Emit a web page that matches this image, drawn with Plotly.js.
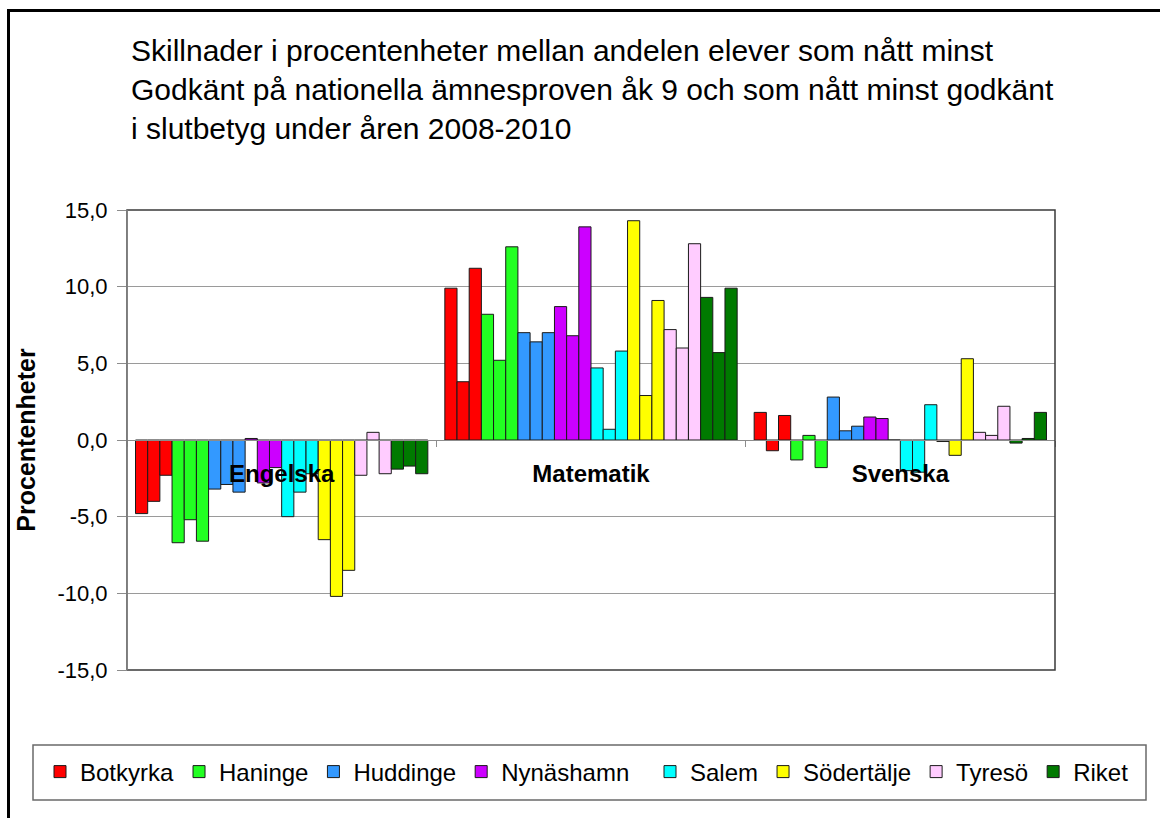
<!DOCTYPE html>
<html>
<head>
<meta charset="utf-8">
<script src="https://cdn.plot.ly/plotly-3.0.1.min.js"></script>
<style>
  html, body { margin: 0; padding: 0; background: #fff; }
  #frame { position: absolute; left: 7px; top: 9px; width: 1160px; height: 830px;
           border-top: 3px solid #000; border-left: 3px solid #000; box-sizing: border-box; pointer-events: none; z-index: 2; }
  #chart { position: absolute; left: 0; top: 0; width: 1160px; height: 818px; }
</style>
</head>
<body>
<div id="chart"></div>
<div id="frame"></div>
<script>
// Categories (subjects) and years
const subjects = ["Engelska", "Matematik", "Svenska"];
const years = ["2008", "2009", "2010"];
const municipalities = ["Botkyrka", "Haninge", "Huddinge", "Nynäshamn", "Salem", "Södertälje", "Tyresö", "Riket"];
const colors = ["#FF0000", "#22FF22", "#3399FF", "#CC00FF", "#00FFFF", "#FFFF00", "#FFCCFF", "#007A00"];

// Y-axis ticks
const yTickVals = [-15, -10, -5, 0, 5, 10, 15];
const yTickText = ["-15,0", "-10,0", "-5,0", "0,0", "5,0", "10,0", "15,0"];

// Values per municipality: [year][subject] -> Engelska, Matematik, Svenska
const botkyrka   = [[-4.8, 9.9, 1.8], [-4.0, 3.8, -0.7], [-2.3, 11.2, 1.6]];
const haninge    = [[-6.7, 8.2, -1.3], [-5.2, 5.2, 0.3], [-6.6, 12.6, -1.8]];
const huddinge   = [[-3.2, 7.0, 2.8], [-2.9, 6.4, 0.6], [-3.4, 7.0, 0.9]];
const nynashamn  = [[0.1, 8.7, 1.5], [-2.8, 6.8, 1.4], [-1.8, 13.9, 0.0]];
const salem      = [[-5.0, 4.7, -2.0], [-3.4, 0.7, -2.1], [-2.2, 5.8, 2.3]];
const sodertalje = [[-6.5, 14.3, -0.1], [-10.2, 2.9, -1.0], [-8.5, 9.1, 5.3]];
const tyreso     = [[-2.3, 7.2, 0.5], [0.5, 6.0, 0.3], [-2.2, 12.8, 2.2]];
const riket      = [[-1.9, 9.3, -0.2], [-1.7, 5.7, 0.1], [-2.2, 9.9, 1.8]];

const allData = [botkyrka, haninge, huddinge, nynashamn, salem, sodertalje, tyreso, riket];

const FONT = "Liberation Sans, Arial, sans-serif";

const traces = [];
municipalities.forEach((m, i) => {
  years.forEach((yr, j) => {
    traces.push({
      type: "bar",
      x: subjects,
      y: allData[i][j],
      name: m,
      legendgroup: m,
      legend: i < 4 ? "legend" : "legend2",
      showlegend: j === 0,
      marker: { color: colors[i], line: { color: "#1a1a1a", width: 1 } },
      hovertemplate: m + " " + yr + ": %{y:.1f}<extra></extra>"
    });
  });
});

const legendCommon = {
  orientation: "h",
  xref: "container", xanchor: "left",
  yref: "container", y: 1 - 772 / 818, yanchor: "middle",
  font: { size: 24, family: FONT, color: "#000" },
  bgcolor: "rgba(0,0,0,0)",
  itemwidth: 30,
  traceorder: "normal"
};

const layout = {
  width: 1160,
  height: 818,
  paper_bgcolor: "rgba(0,0,0,0)",
  plot_bgcolor: "#ffffff",
  font: { family: FONT, color: "#000" },
  separators: ", ",
  margin: { l: 127, r: 105, t: 210, b: 148, autoexpand: false },
  barmode: "group",
  bargap: 0.055,
  bargroupgap: 0,
  title: {
    text: "Skillnader i procentenheter mellan andelen elever som nått minst<br>Godkänt på nationella ämnesproven åk 9 och som nått minst godkänt<br>i slutbetyg under åren 2008-2010",
    font: { size: 30, family: FONT, color: "#000" },
    x: 131 / 1160, xanchor: "left", xref: "container",
    y: 1 - 61 / 818, yanchor: "top", yref: "container"
  },
  xaxis: {
    type: "category",
    anchor: "free",
    position: 0.5,
    showline: true,
    linecolor: "#8c8c8c",
    linewidth: 1,
    ticks: "outside",
    tickson: "boundaries",
    ticklen: 6,
    tickcolor: "#8c8c8c",
    ticklabelstandoff: 12,
    tickfont: { size: 24, family: FONT, color: "#000", weight: "bold" },
    showgrid: false,
    zeroline: false
  },
  yaxis: {
    range: [-15, 15],
    tickvals: yTickVals,
    ticktext: yTickText,
    showgrid: true,
    gridcolor: "#9a9a9a",
    gridwidth: 1,
    zeroline: false,
    showline: true,
    linecolor: "#8c8c8c",
    ticks: "outside",
    ticklen: 9,
    tickcolor: "#8c8c8c",
    ticklabelstandoff: 5,
    tickfont: { size: 22, family: FONT, color: "#000" },
    title: { text: "Procentenheter", font: { size: 25, weight: "bold", color: "#000" }, standoff: 14 }
  },
  showlegend: true,
  legend: Object.assign({}, legendCommon, { x: 40 / 1160 }),
  legend2: Object.assign({}, legendCommon, { x: 650 / 1160 }),
  shapes: [
    { type: "rect", xref: "paper", yref: "paper", x0: 0, x1: 1, y0: 0, y1: 1,
      line: { color: "#3a3a3a", width: 1.5 }, fillcolor: "rgba(0,0,0,0)", layer: "above" },
    { type: "line", xref: "paper", yref: "paper", x0: 0, x1: 0, y0: 0, y1: 1,
      line: { color: "#8c8c8c", width: 1.5 }, layer: "above" },
    { type: "rect", xref: "paper", yref: "paper",
      x0: (33 - 127) / 928, x1: (1146 - 127) / 928,
      y0: (670 - 800) / 460, y1: (670 - 745) / 460,
      line: { color: "#6a6a6a", width: 1.5 }, fillcolor: "rgba(0,0,0,0)" }
  ]
};

Plotly.newPlot("chart", traces, layout, { displayModeBar: false, staticPlot: true });
</script>
</body>
</html>
